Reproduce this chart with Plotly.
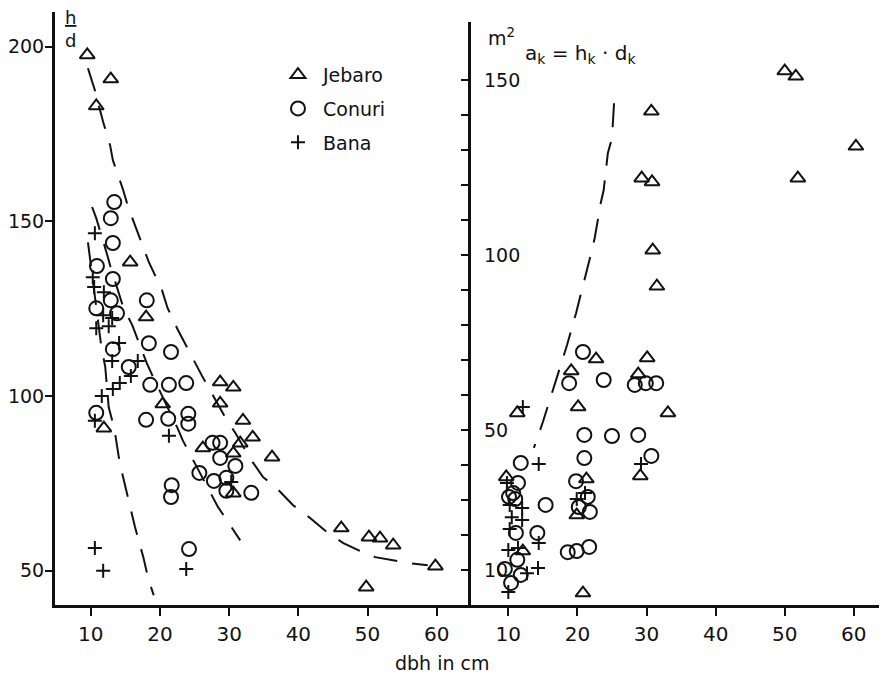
import plotly.graph_objects as go

# ---------------- data ----------------
# Left panel: h/d ratio vs dbh
jeb_hd_x = [9.5, 12.9, 10.8, 15.7, 18.0, 11.9, 20.4, 28.7, 30.6, 28.7, 32.0, 33.4, 31.6, 26.2,
            30.6, 36.2, 30.6, 46.2, 50.2, 51.8, 53.7, 59.8, 49.8]
jeb_hd_y = [197.6, 190.7, 183.0, 138.3, 122.6, 90.8, 97.7, 104.0, 102.5, 97.9, 93.0, 88.2, 86.5, 85.1,
            83.6, 82.5, 72.2, 62.2, 59.6, 59.3, 57.3, 51.3, 45.3]

con_hd_x = [13.4, 12.9, 13.2, 10.9, 13.2, 12.9, 18.1, 10.8, 13.8, 13.2, 18.4, 21.6, 15.5, 18.6,
            21.3, 23.8, 10.8, 18.0, 21.2, 24.1, 24.1, 27.6, 28.7, 28.7, 30.9, 25.7, 27.8, 29.6,
            29.6, 33.2, 21.7, 21.6, 24.2]
con_hd_y = [155.5, 150.9, 143.8, 137.2, 133.5, 127.4, 127.4, 125.1, 123.7, 113.4, 115.1, 112.6, 108.3, 103.2,
            103.2, 103.7, 95.2, 93.2, 93.5, 94.9, 92.1, 86.6, 86.6, 82.3, 80.0, 78.0, 75.7, 76.6,
            72.9, 72.3, 74.5, 71.1, 56.2]

ban_hd_x = [10.6, 10.3, 10.5, 11.9, 11.8, 13.1, 10.8, 12.6, 14.1, 13.1, 16.8, 15.8, 14.2, 13.2,
            11.6, 10.6, 21.3, 30.3, 10.6, 11.8, 23.8]
ban_hd_y = [146.6, 134.0, 131.2, 129.7, 123.1, 122.3, 119.4, 120.0, 115.2, 110.0, 110.0, 105.7, 103.7, 102.0,
            100.0, 92.9, 88.6, 75.4, 56.5, 50.0, 50.5]

# dashed envelope curves, left panel
env_jeb_x = [9.6, 10.6, 11.8, 12.8, 13.2, 14.7, 15.4, 17.1, 18.4, 20.3, 21.1, 22.6, 24.3, 26.1,
             29.4, 30.9, 33.0, 34.9, 36.9, 39.2, 41.7, 44.3, 46.5, 49.3, 51.1, 54.7, 55.9, 58.7]
env_jeb_y = [193.8, 187.5, 178.4, 171.8, 167.5, 158.9, 154.1, 145.2, 138.3, 130.3, 125.2, 118.9, 112.3, 105.7,
             94.0, 89.4, 82.2, 76.8, 73.6, 68.8, 65.1, 60.8, 57.9, 55.3, 53.9, 52.5, 52.2, 51.6]
env_con_x = [10.2, 10.8, 12.4, 12.8, 14.7, 16.0, 18.1, 18.9, 22.5, 23.3, 26.5, 28.4, 29.7, 31.6]
env_con_y = [154.1, 150.9, 140.3, 137.4, 125.4, 120.3, 109.4, 105.9, 91.0, 87.3, 75.3, 68.2, 64.4, 58.7]
env_ban_x = [9.6, 9.8, 11.5, 12.1, 12.6, 13.4, 14.2, 15.4, 16.4, 17.6, 18.3, 19.1]
env_ban_y = [144.0, 140.9, 114.6, 108.3, 96.8, 90.8, 80.8, 70.8, 62.5, 53.9, 47.9, 43.0]

# Right panel: a_k = h_k * d_k (m2) vs dbh
jeb_a_x = [50.0, 51.6, 30.7, 60.3, 29.3, 30.8, 51.9, 30.9, 31.5, 22.7, 30.1, 19.1, 28.8, 20.1,
           11.3, 33.1, 9.7, 21.3, 29.1, 19.9, 12.1, 20.8]
jeb_a_y = [152.6, 151.1, 141.1, 131.1, 122.0, 120.9, 122.0, 101.4, 91.1, 70.3, 70.6, 66.9, 66.0, 56.6,
           54.9, 54.9, 36.6, 36.0, 36.9, 25.7, 15.4, 3.4]

con_a_x = [20.8, 18.8, 23.8, 28.3, 29.9, 31.4, 21.0, 25.0, 28.8, 21.0, 30.7, 11.8, 19.8, 11.4,
           10.1, 11.0, 10.7, 15.4, 21.5, 20.2, 21.8, 11.1, 14.2, 18.6, 19.9, 21.7, 9.5, 11.3,
           11.8, 10.4]
con_a_y = [72.3, 63.4, 64.3, 62.9, 63.4, 63.4, 48.6, 48.3, 48.6, 42.0, 42.6, 40.6, 35.4, 34.9,
           30.9, 30.3, 32.0, 28.6, 30.9, 28.0, 26.6, 20.6, 20.6, 15.1, 15.4, 16.6, 10.3, 12.9,
           8.6, 6.3]

ban_a_x = [12.1, 14.4, 29.2, 9.8, 10.2, 12.0, 10.5, 12.0, 10.2, 14.4, 10.0, 11.4, 19.9, 21.1,
           14.3, 12.7, 10.0]
ban_a_y = [56.6, 40.3, 40.3, 34.9, 28.6, 27.7, 25.1, 24.3, 21.7, 17.7, 15.7, 16.3, 30.3, 32.0,
           10.6, 9.1, 3.7]

env_a_x = [25.3, 25.0, 24.4, 23.8, 23.4, 22.5, 22.0, 20.4, 19.8, 18.5, 17.5, 15.9, 15.0, 13.7]
env_a_y = [143.4, 133.4, 129.1, 118.6, 115.1, 104.9, 100.6, 88.0, 83.4, 74.3, 68.0, 58.6, 52.3, 44.9]

x_ticks = [10, 20, 30, 40, 50, 60]
left_y_ticks = [50, 100, 150, 200]
right_y_ticks = [10, 20, 30, 40, 50, 60, 70, 80, 90, 100, 110, 120, 130, 140, 150]
right_y_label_vals = [10, 50, 100, 150]

# ---------------- figure ----------------
FONT = "DejaVu Sans"
BLACK = "#111111"
fig = go.Figure()

mk_tri = dict(symbol="triangle-up-open", size=13, color=BLACK, line=dict(width=2, color=BLACK))
mk_cir = dict(symbol="circle-open", size=14, color=BLACK, line=dict(width=2, color=BLACK))
mk_plus = dict(symbol="cross-thin-open", size=10, color=BLACK, line=dict(width=2, color=BLACK))
dash_line = dict(color=BLACK, width=2, dash="24px,15px")

# dashed curves
for xs, ys in [(env_jeb_x, env_jeb_y), (env_con_x, env_con_y), (env_ban_x, env_ban_y)]:
    fig.add_trace(go.Scatter(x=xs, y=ys, mode="lines", line=dash_line,
                             showlegend=False, hoverinfo="skip", xaxis="x", yaxis="y"))
fig.add_trace(go.Scatter(x=env_a_x, y=env_a_y, mode="lines", line=dash_line,
                         showlegend=False, hoverinfo="skip", xaxis="x2", yaxis="y2"))

# left panel points
fig.add_trace(go.Scatter(x=jeb_hd_x, y=jeb_hd_y, mode="markers", marker=mk_tri, name="Jebaro",
                         legendgroup="g1", xaxis="x", yaxis="y"))
fig.add_trace(go.Scatter(x=con_hd_x, y=con_hd_y, mode="markers", marker=mk_cir, name="Conuri",
                         legendgroup="g2", xaxis="x", yaxis="y"))
fig.add_trace(go.Scatter(x=ban_hd_x, y=ban_hd_y, mode="markers", marker=mk_plus, name="Bana",
                         legendgroup="g3", xaxis="x", yaxis="y"))
# right panel points
fig.add_trace(go.Scatter(x=jeb_a_x, y=jeb_a_y, mode="markers", marker=mk_tri, name="Jebaro",
                         legendgroup="g1", showlegend=False, xaxis="x2", yaxis="y2"))
fig.add_trace(go.Scatter(x=con_a_x, y=con_a_y, mode="markers", marker=mk_cir, name="Conuri",
                         legendgroup="g2", showlegend=False, xaxis="x2", yaxis="y2"))
fig.add_trace(go.Scatter(x=ban_a_x, y=ban_a_y, mode="markers", marker=mk_plus, name="Bana",
                         legendgroup="g3", showlegend=False, xaxis="x2", yaxis="y2"))

axis_common = dict(showgrid=False, zeroline=False, showline=True, linecolor=BLACK,
                   ticks="outside", tickcolor=BLACK, tickwidth=2)

annotations = [
    dict(text="<u>h</u><br>d", xref="paper", yref="paper", x=0.019, y=0.971,
         xanchor="center", yanchor="middle", showarrow=False,
         font=dict(family=FONT, size=18, color=BLACK)),
    dict(text="m<sup>2</sup>", xref="paper", yref="paper", x=0.537, y=0.958,
         xanchor="center", yanchor="middle", showarrow=False,
         font=dict(family=FONT, size=19, color=BLACK)),
    dict(text="a<sub>k</sub> = h<sub>k</sub> · d<sub>k</sub>", xref="paper", yref="paper",
         x=0.563, y=0.93, xanchor="left", yanchor="middle", showarrow=False,
         font=dict(family=FONT, size=20, color=BLACK)),
    dict(text="dbh in cm", xref="paper", yref="paper", x=0.466, y=-0.098,
         xanchor="center", yanchor="middle", showarrow=False,
         font=dict(family=FONT, size=19, color=BLACK)),
]
# right-panel y tick labels, drawn inside the plot next to the axis
for v in right_y_label_vals:
    annotations.append(dict(text=str(v), xref="x2 domain", yref="y2", x=0, y=v,
                            xanchor="left", yanchor="middle", xshift=11, showarrow=False,
                            font=dict(family=FONT, size=19, color=BLACK)))

# page body has an 8px margin: size the figure so the plot area lands where the reference has it
fig.update_layout(
    width=879, height=667, autosize=False,
    margin=dict(l=47, r=0, t=4, b=70, pad=0, autoexpand=False),
    paper_bgcolor="white", plot_bgcolor="white",
    font=dict(family=FONT, color=BLACK),
    showlegend=True,
    legend=dict(x=0.262, y=0.926, xanchor="left", yanchor="top", bgcolor="rgba(0,0,0,0)",
                font=dict(family=FONT, size=19, color=BLACK), tracegroupgap=6,
                itemwidth=40, itemclick=False, itemdoubleclick=False),
    xaxis=dict(domain=[0, 0.4988], range=[4.84, 64.8], tickvals=x_ticks, ticklen=8,
               linewidth=2.5, tickfont=dict(size=20), ticklabelstandoff=1, anchor="y",
               **axis_common),
    yaxis=dict(domain=[0, 1], range=[40.2, 209.9], tickvals=left_y_ticks, ticklen=7,
               linewidth=3, tickfont=dict(size=19), ticklabelstandoff=-3, anchor="x",
               **axis_common),
    xaxis2=dict(domain=[0.5, 1], range=[4.6, 64.8], tickvals=x_ticks, ticklen=8,
                linewidth=2.5, tickfont=dict(size=20), ticklabelstandoff=1, anchor="y2",
                **axis_common),
    yaxis2=dict(domain=[0, 0.983], range=[0, 166.6], tickvals=right_y_ticks,
                showticklabels=False, ticklen=7, linewidth=3, anchor="x2", **axis_common),
    annotations=annotations,
)

fig.write_html("out.html")
